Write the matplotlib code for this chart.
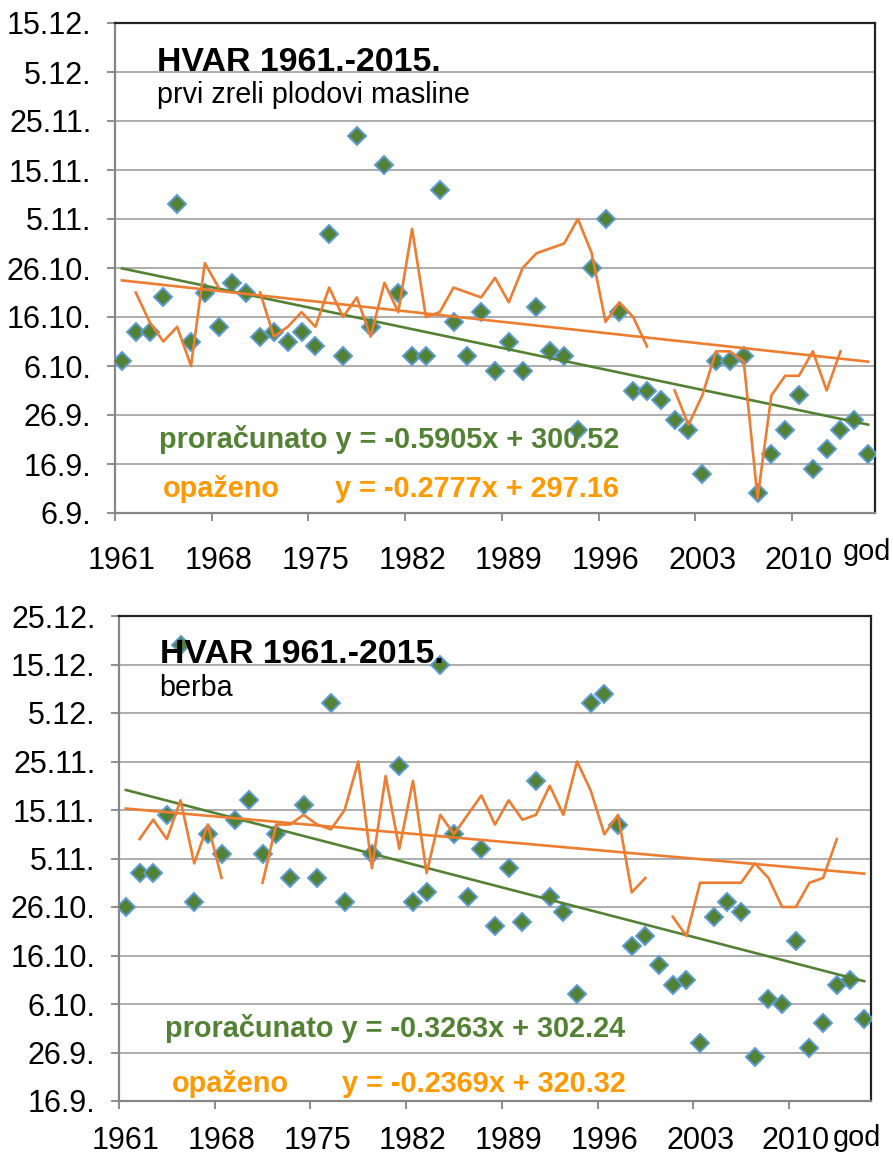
import numpy as np
import matplotlib
matplotlib.use('Agg')
import matplotlib.pyplot as plt

plt.rcParams['font.family'] = ['Liberation Sans', 'DejaVu Sans']

nan = np.nan
years = list(range(1961, 2016))

# ---- panel 1: first ripe olives (day of year) ----
ripe_calc = [280, 286, 286, 293, 312, 284, 294, 287, 296, 294,
             285, 286, 284, 286, 283, 306, 281, 326, 287, 320,
             294, 281, 281, 315, 288, 281, 290, 278, 284, 278,
             291, 282, 281, 266, 299, 309, 290, 274, 274, 272,
             268, 266, 257, 280, 280, 281, 253, 261, 266, 273,
             258, 262, 266, 268, 261]
ripe_obs = [nan, 294, 288, 284, 287, 279, 300, 295, nan, nan,
            294, 285, 287, 290, 287, 295, 289, 293, 285, 296,
            290, 307, 289, 290, 295, 294, 293, 297, 292, 299,
            302, 303, 304, 309, 302, 288, 292, 289, 283, nan,
            274, 267, 273, 282, 282, 280, 252, 273, 277, 277,
            282, 274, 282, nan, nan]
ripe_yticks = [249, 259, 269, 279, 289, 299, 309, 319, 329, 339, 349]
ripe_ylabels = ['6.9.', '16.9.', '26.9.', '6.10.', '16.10.', '26.10.',
                '5.11.', '15.11.', '25.11.', '5.12.', '15.12.']

# ---- panel 2: harvest (day of year) ----
harv_calc = [299, 306, 306, 318, 353, 300, 314, 310, 317, 321,
             310, 314, 305, 320, 305, 341, 300, nan, 310, nan,
             328, 300, 302, 349, 314, 301, 311, 295, 307, 296,
             325, 301, 298, 281, 341, 343, 316, 291, 293, 287,
             283, 284, 271, 297, 300, 298, 268, 280, 279, 292,
             270, 275, 283, 284, 276]
harv_obs = [nan, 313, 317, 313, 321, 308, 316, 305, nan, nan,
            304, 316, 316, 318, 316, 315, 319, 329, 307, 326,
            311, 325, 306, 318, 314, 318, 322, 316, 321, 317,
            318, 324, 318, 329, 323, 314, 318, 302, 305, nan,
            297, 293, 304, 304, 304, 304, 308, 305, 299, 299,
            304, 305, 313, nan, nan]
harv_yticks = [259, 269, 279, 289, 299, 309, 319, 329, 339, 349, 359]
harv_ylabels = ['16.9.', '26.9.', '6.10.', '16.10.', '26.10.', '5.11.',
                '15.11.', '25.11.', '5.12.', '15.12.', '25.12.']

xtick_labels = ['1961', '1968', '1975', '1982', '1989', '1996', '2003', '2010']

title = 'HVAR 1961.-2015.'
sub1 = 'prvi zreli plodovi masline'
sub2 = 'berba'
eq1_calc = 'proračunato y = -0.5905x + 300.52'
eq1_obs = 'y = -0.2777x + 297.16'
eq2_calc = 'proračunato y = -0.3263x + 302.24'
eq2_obs = 'y = -0.2369x + 320.32'
obs_label = 'opaženo'
xunit = 'god'

GREEN = '#548235'
BLUE_EDGE = '#5B9BD5'
ORANGE = '#ED7D31'
ORANGE_TXT = '#FF9900'
GRID = '#A0A0A0'
AXGRAY = '#868686'

TICK_FS = 22
EQ_FS = 20.8
TITLE_FS = 24.4
SUB_FS = 20.7

W, H = 893, 1158
fig = plt.figure(figsize=(W / 100, H / 100), dpi=100)


def px_axes(l, t, r, b):
    return fig.add_axes([l / W, 1 - b / H, (r - l) / W, (b - t) / H])


def ftext(x, y, s, **kw):
    fig.text(x / W, 1 - y / H, s, va='baseline', ha='left', zorder=10, **kw)


def panel(box, calc, obs, yticks, ylabels, xpad):
    ax = px_axes(*box)
    n = len(years)
    x = np.arange(n) + 0.5
    calc = np.array(calc, float)
    obs = np.array(obs, float)
    ax.set_xlim(0, n)
    ax.set_ylim(yticks[0], yticks[-1])
    ax.set_yticks(yticks)
    ax.set_yticklabels(ylabels)
    ax.grid(axis='y', color=GRID, lw=1.2, zorder=0)
    ax.set_axisbelow(True)

    xt = [years.index(int(s)) + 0.5 for s in xtick_labels]
    ax.set_xticks(xt)
    ax.set_xticklabels(xtick_labels)
    ax.set_xticks(np.arange(0, n, 7), minor=True)
    ax.tick_params(axis='x', which='major', length=0, pad=xpad, labelsize=TICK_FS)
    ax.tick_params(axis='x', which='minor', length=6, width=1.3, color=AXGRAY,
                   direction='out')
    ax.tick_params(axis='y', which='major', length=6, width=1.3, color=AXGRAY,
                   direction='out', pad=11, labelsize=TICK_FS)

    for s in ['left', 'bottom']:
        ax.spines[s].set_color(AXGRAY)
        ax.spines[s].set_linewidth(1.6)
    for s in ['top', 'right']:
        ax.spines[s].set_color('#222222')
        ax.spines[s].set_linewidth(1.6)

    ax.plot(x, calc, ls='none', marker='D', ms=9.6, mfc=GREEN, mec=BLUE_EDGE,
            mew=1.4, zorder=3)
    ax.plot(x, obs, color=ORANGE, lw=1.9, zorder=5)

    m = ~np.isnan(calc)
    pc = np.polyfit(x[m], calc[m], 1)
    mo = ~np.isnan(obs)
    po = np.polyfit(x[mo], obs[mo], 1)
    xe = x[[0, -1]]
    ax.plot(xe, np.polyval(pc, xe), color=GREEN, lw=1.9, zorder=4)
    ax.plot(xe, np.polyval(po, xe), color=ORANGE, lw=1.9, zorder=6)
    return ax


panel((115, 23, 875, 513), ripe_calc, ripe_obs, ripe_yticks, ripe_ylabels, 24)
panel((119, 616, 871, 1101), harv_calc, harv_obs, harv_yticks, harv_ylabels, 18)

# texts panel 1
ftext(157, 71, title, fontsize=TITLE_FS, fontweight='bold', color='black')
ftext(157, 103, sub1, fontsize=SUB_FS, color='black')
ftext(159, 448, eq1_calc, fontsize=EQ_FS, fontweight='bold', color=GREEN)
ftext(163, 497, obs_label, fontsize=EQ_FS, fontweight='bold', color=ORANGE_TXT)
ftext(335, 497, eq1_obs, fontsize=EQ_FS, fontweight='bold', color=ORANGE_TXT)
ftext(843, 560, xunit, fontsize=20.8, color='black')

# texts panel 2
ftext(160, 663, title, fontsize=TITLE_FS, fontweight='bold', color='black')
ftext(159, 696, sub2, fontsize=SUB_FS, color='black')
ftext(165, 1037, eq2_calc, fontsize=EQ_FS, fontweight='bold', color=GREEN)
ftext(172, 1092, obs_label, fontsize=EQ_FS, fontweight='bold', color=ORANGE_TXT)
ftext(342, 1092, eq2_obs, fontsize=EQ_FS, fontweight='bold', color=ORANGE_TXT)
ftext(833, 1146, xunit, fontsize=20.8, color='black')

fig.savefig('out.png', dpi=100)
